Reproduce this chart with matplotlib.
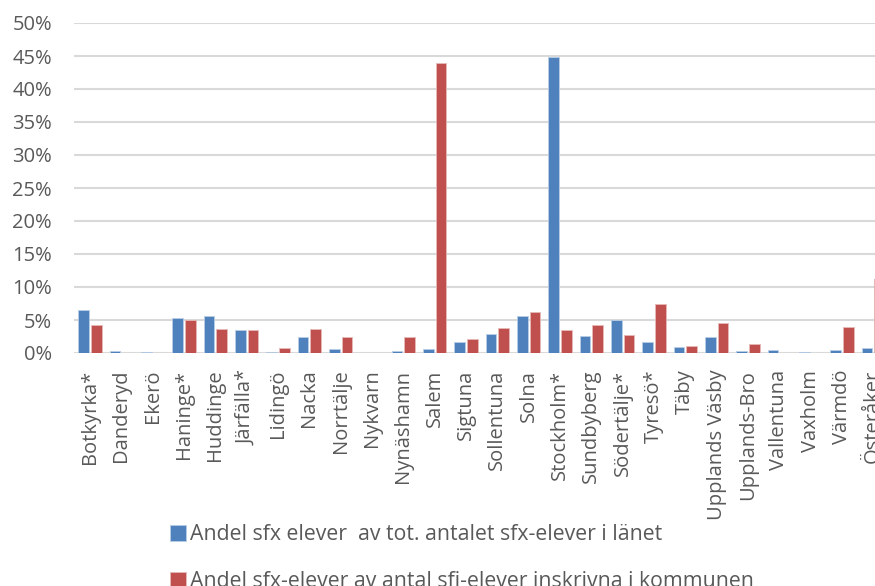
import matplotlib.pyplot as plt
import numpy as np

kommuner = ["Botkyrka*", "Danderyd", "Ekerö", "Haninge*", "Huddinge", "Järfälla*",
            "Lidingö", "Nacka", "Norrtälje", "Nykvarn", "Nynäshamn", "Salem",
            "Sigtuna", "Sollentuna", "Solna", "Stockholm*", "Sundbyberg",
            "Södertälje*", "Tyresö*", "Täby", "Upplands Väsby", "Upplands-Bro",
            "Vallentuna", "Vaxholm", "Värmdö", "Österåker"]

# andel sfx elever av tot. antalet sfx-elever i länet (%)
andel_lan = [6.55, 0.35, 0.1, 5.3, 5.6, 3.55, 0.15, 2.4, 0.55, 0.0, 0.35, 0.55,
             1.7, 2.85, 5.65, 44.9, 2.65, 4.95, 1.7, 0.95, 2.35, 0.35,
             0.5, 0.1, 0.45, 0.8]
# andel sfx-elever av antal sfi-elever inskrivna i kommunen (%)
andel_kommun = [4.3, 0.0, 0.0, 5.0, 3.7, 3.55, 0.75, 3.6, 2.35, 0.0, 2.5, 43.9,
                2.05, 3.75, 6.25, 3.55, 4.3, 2.75, 7.4, 1.05, 4.55, 1.4,
                0.0, 0.0, 3.95, 11.2]

label_lan = "Andel sfx elever  av tot. antalet sfx-elever i länet"
label_kommun = "Andel sfx-elever av antal sfi-elever inskrivna i kommunen"

plt.rcParams['font.family'] = ['Open Sans', 'DejaVu Sans']
txt = '#595959'

fig = plt.figure(figsize=(8.75, 5.86), dpi=100)
ax = fig.add_axes([74.3 / 875, 1 - 353 / 586, 26 * 31.33 / 875, 330 / 586])

x = np.arange(len(kommuner))
w = 0.34
b1 = ax.bar(x - 0.203, np.array(andel_lan) / 100, w, color='#4F81BD',
            edgecolor='#b9cde5', linewidth=0.6, label=label_lan, zorder=3)
b2 = ax.bar(x + 0.203, np.array(andel_kommun) / 100, w, color='#C0504D',
            edgecolor='#e6b9b8', linewidth=0.6, label=label_kommun, zorder=3)

ax.set_xlim(-0.5, len(kommuner) - 0.5)
ax.set_ylim(0, 0.5)
ax.set_yticks(np.arange(0, 0.51, 0.05))
ax.set_yticklabels([f"{int(round(v * 100))}%" for v in np.arange(0, 0.51, 0.05)])
ax.set_xticks(x)
ax.set_xticklabels(kommuner, rotation=90, va='top', ha='center')
ax.tick_params(axis='both', length=0, labelsize=14.5, colors=txt)
ax.tick_params(axis='y', pad=16)
ax.tick_params(axis='x', pad=12)
ax.grid(axis='y', color='#d9d9d9', linewidth=1.5, zorder=0)
for s in ax.spines.values():
    s.set_visible(False)

fig.legend(handles=[b1, b2], loc='upper left', bbox_to_anchor=(170 / 875, 0.105),
           frameon=False, fontsize=15.3, labelcolor=txt, borderpad=0,
           borderaxespad=0, handlelength=0.75, handleheight=0.75,
           handletextpad=0.2, labelspacing=1.2)

fig.savefig('out.png', dpi=100)
